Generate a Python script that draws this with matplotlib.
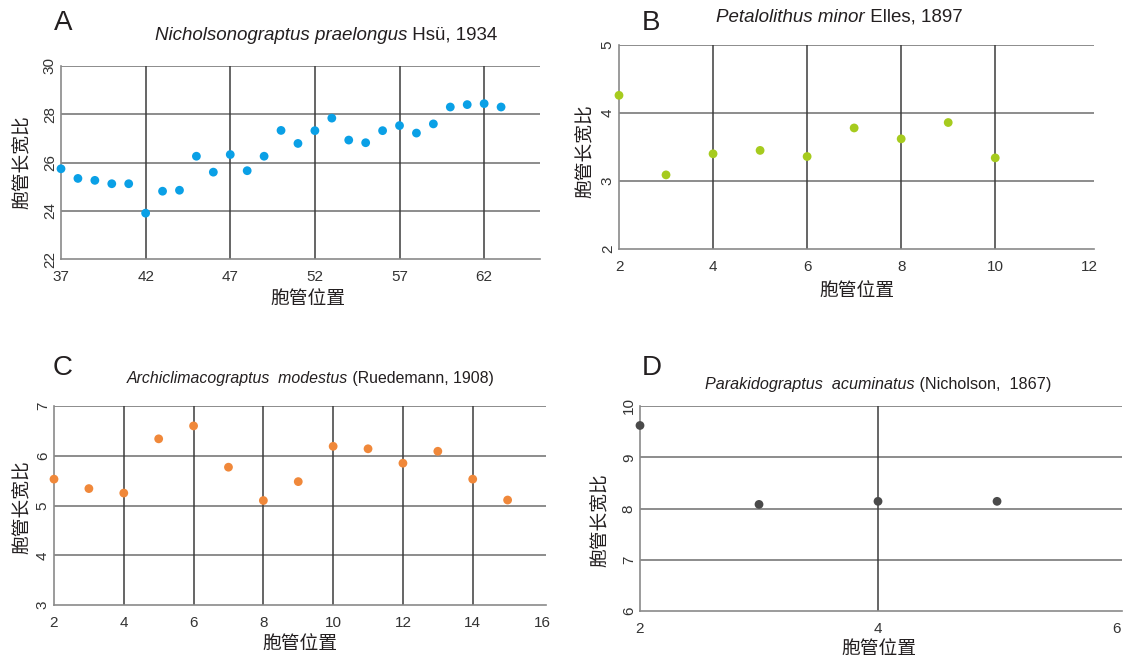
import matplotlib
matplotlib.use("Agg")
import matplotlib.pyplot as plt

plt.rcParams['font.family'] = ['Liberation Sans', 'Noto Sans CJK SC', 'DejaVu Sans']

W, H = 1126, 659

# A: Nicholsonograptus praelongus
a_pos = list(range(37, 64))
a_ratio = [25.74, 25.34, 25.26, 25.12, 25.12, 23.90, 24.81, 24.85, 26.26, 25.60,
           26.33, 25.66, 26.26, 27.33, 26.79, 27.32, 27.84, 26.93, 26.82, 27.32,
           27.53, 27.22, 27.60, 28.30, 28.40, 28.44, 28.30]

# B: Petalolithus minor
b_pos = [2, 3, 4, 5, 6, 7, 8, 9, 10]
b_ratio = [4.26, 3.09, 3.40, 3.45, 3.36, 3.78, 3.62, 3.86, 3.34]

# C: Archiclimacograptus modestus
c_pos = list(range(2, 16))
c_ratio = [5.53, 5.34, 5.25, 6.34, 6.60, 5.77, 5.10, 5.48, 6.19, 6.14, 5.85,
           6.09, 5.53, 5.11]

# D: Parakidograptus acuminatus
d_pos = [2, 3, 4, 5]
d_ratio = [9.62, 8.08, 8.14, 8.14]

xlabel = '胞管位置'
ylabel = '胞管长宽比'

TXT = '#231f20'
TICK = '#333333'


def px_axes(fig, left, right, top, bottom):
    return fig.add_axes([left / W, (H - bottom) / H, (right - left) / W, (bottom - top) / H])


def fig_xy(x, y):
    return x / W, (H - y) / H


def panel(fig, box, xs, ys, color, xlim, ylim, xticks, yticks, vlines,
          letter, letter_xy, sp_name, author, title_xy, title_size, xl_xy, yl_xy):
    ax = px_axes(fig, *box)
    ax.set_xlim(*xlim)
    ax.set_ylim(*ylim)
    for s in ['top', 'right']:
        ax.spines[s].set_visible(False)
    for s in ['left', 'bottom']:
        ax.spines[s].set_color('#8a8a8a')
        ax.spines[s].set_linewidth(1.2)
    # horizontal grid, including the top line
    for yv in yticks[1:]:
        ax.axhline(yv, color='#6e6e6e', lw=1.1, zorder=1)
    for xv in vlines:
        ax.axvline(xv, ymax=1.0, color='#3c3c3c', lw=1.1, zorder=1)
    ax.scatter(xs, ys, s=40, color=color, edgecolors='none', zorder=3, clip_on=False)

    ax.set_xticks(xticks)
    ax.set_xticklabels([str(t) for t in xticks])
    ax.set_yticks(yticks)
    ax.set_yticklabels([str(t) for t in yticks], rotation=90, va='center')
    ax.tick_params(length=0, labelsize=11, colors=TICK)
    ax.tick_params(axis='x', pad=8)
    ax.tick_params(axis='y', pad=3)

    fig.text(*fig_xy(*letter_xy), letter, fontsize=20, color=TXT, ha='left', va='center')
    t1 = fig.text(*fig_xy(*title_xy), sp_name, fontsize=title_size, style='italic',
                  color=TXT, ha='left', va='center')
    ax.annotate(author, xy=(1, 0), xycoords=t1, ha='left', va='bottom',
                fontsize=title_size, color=TXT)
    fig.text(*fig_xy(*xl_xy), xlabel, fontsize=13.5, color=TXT, ha='center', va='center',
             family=['Noto Sans CJK SC'])
    fig.text(*fig_xy(*yl_xy), ylabel, fontsize=13.5, color=TXT, ha='center', va='center',
             rotation=90, family=['Noto Sans CJK SC'])
    return ax


fig = plt.figure(figsize=(W / 100, H / 100), dpi=100)
fig.patch.set_facecolor('white')

panel(fig, (61, 540, 66, 259), a_pos, a_ratio, '#0aa0e6',
      (37, 65.3), (22, 30), [37, 42, 47, 52, 57, 62], [22, 24, 26, 28, 30],
      [42, 47, 52, 57, 62], 'A', (54, 23),
      'Nicholsonograptus praelongus', ' Hsü, 1934', (155, 35), 13.5,
      (308, 298), (22, 162))

panel(fig, (619, 1094, 45, 249), b_pos, b_ratio, '#a6cb1e',
      (2, 12.1), (2, 5), [2, 4, 6, 8, 10, 12], [2, 3, 4, 5],
      [4, 6, 8, 10], 'B', (642, 23),
      'Petalolithus minor', ' Elles, 1897', (716, 17), 13.5,
      (857, 290), (585, 151))

panel(fig, (54, 546, 406, 605), c_pos, c_ratio, '#f0883a',
      (2, 16.1), (3, 7), [2, 4, 6, 8, 10, 12, 14, 16], [3, 4, 5, 6, 7],
      [4, 6, 8, 10, 12, 14], 'C', (53, 368),
      'Archiclimacograptus  modestus', ' (Ruedemann, 1908)', (127, 378), 11.4,
      (300, 643), (22, 507))

panel(fig, (640, 1122, 406, 611), d_pos, d_ratio, '#4a4a4a',
      (2, 6.05), (6, 10), [2, 4, 6], [6, 7, 8, 9, 10],
      [4], 'D', (642, 368),
      'Parakidograptus  acuminatus', ' (Nicholson,  1867)', (705, 385), 11.6,
      (879, 648), (600, 520))

fig.savefig('out.png', dpi=100)
